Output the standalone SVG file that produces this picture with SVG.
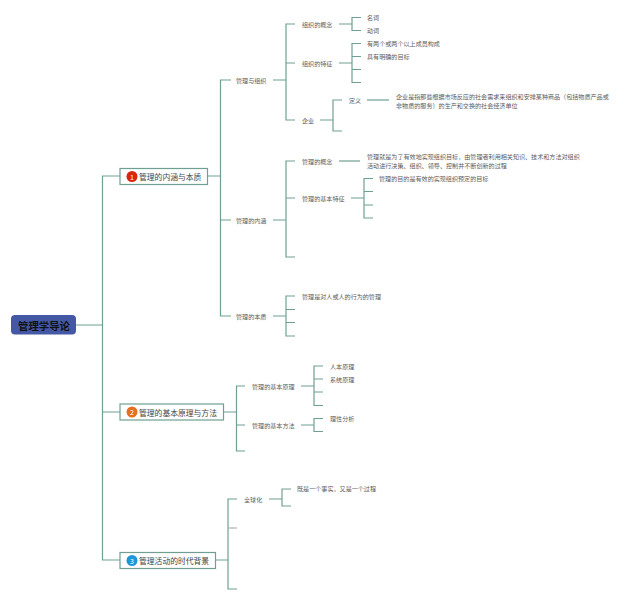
<svg xmlns="http://www.w3.org/2000/svg" width="640" height="600" viewBox="0 0 640 600">
<style>
text{font-family:"Noto Sans CJK SC","Noto Sans",sans-serif;dominant-baseline:central}
.c{fill:none;stroke:#6f9f93;stroke-width:1.200}
.g{fill:none;stroke:#a9b8b3;stroke-width:1.200}
.t{font-size:6.080px;fill:#5c5c5c}
.b{fill:#fff;stroke:#6f9f93;stroke-width:1.200}
.m{font-size:7.800px;fill:#444}
.n{font-size:7px;fill:#fff;text-anchor:middle}
</style>
<rect width="640" height="600" fill="#fff"/>
<g id="connectors">
<path class="c" d="M76 325H102.500M120 176H102.500V560H120M102.500 412H120"/>
<path class="c" d="M207.500 176H220.500M231 80H220.500V316H231M220.500 220H231"/>
<path class="c" d="M273 80H286M295 24H286V120H295M286 63H295"/>
<path class="c" d="M339 24H352M361 17.500H352V30.500H361"/>
<path class="c" d="M339 63H352M361 43.500H352V82.500H361M352 56.500H361M352 69.500H361"/>
<path class="c" d="M320 120H333M342 100H333V131H342"/>
<path class="c" d="M367 100H389"/>
<path class="c" d="M273 220H286M295 161H286V257H295M286 198H295"/>
<path class="c" d="M339 161H360"/>
<path class="c" d="M351 198H364M373 178.500H364V218H373M364 191.500H373M364 205H373"/>
<path class="c" d="M273 316H286M295 296H286V336H295M286 309.500H295M286 322.500H295"/>
<path class="c" d="M223.500 412H236.500M245 386H236.500V451H245M236.500 425H245"/>
<path class="c" d="M301 386H314M323 366H314V405.500H323M314 379H323M314 392H323"/>
<path class="c" d="M301 425H314M323 418.500H314V431.500H323"/>
<path class="c" d="M215.500 560H228M237 499H228V589H237"/>
<path class="g" d="M228 528H237"/>
<path class="c" d="M269 499H282M291 489H282V506H291"/>
</g>
<g id="root"><rect x="11" y="315" width="65" height="19.500" rx="4" fill="#4558a6"/><text x="18" y="325" font-size="10.400" font-weight="700" fill="#111">管理学导论</text></g>
<g id="n1"><rect class="b" x="120" y="168.500" width="87.500" height="16"/><circle cx="132" cy="176.500" r="5.500" fill="#d9260c"/><text class="n" x="132" y="176.500">1</text><text class="m" x="139" y="176.700">管理的内涵与本质</text></g>
<g id="n2"><rect class="b" x="120" y="404" width="103.500" height="16"/><circle cx="132" cy="412" r="5.500" fill="#e5701f"/><text class="n" x="132" y="412">2</text><text class="m" x="139" y="412.200">管理的基本原理与方法</text></g>
<g id="n3"><rect class="b" x="120" y="552.500" width="95.500" height="16"/><circle cx="132" cy="560.500" r="5.500" fill="#1e96d8"/><text class="n" x="132" y="560.500">3</text><text class="m" x="139" y="560.700">管理活动的时代背景</text></g>
<g id="labels" transform="translate(0,-0.300)">
<text class="t" x="236" y="81">管理与组织</text>
<text class="t" x="302" y="24.500">组织的概念</text>
<text class="t" x="367" y="18">名词</text>
<text class="t" x="367" y="31">动词</text>
<text class="t" x="302" y="63.500">组织的特征</text>
<text class="t" x="367" y="44">有两个或两个以上成员构成</text>
<text class="t" x="367" y="57">具有明确的目标</text>
<text class="t" x="302" y="120.500">企业</text>
<text class="t" x="349" y="101">定义</text>
<text class="t" x="396" y="96.500">企业是指那些根据市场反应的社会需求来组织和安排某种商品（包括物质产品或</text>
<text class="t" x="396" y="105.500">非物质的服务）的生产和交换的社会经济单位</text>
<text class="t" x="236" y="220.500">管理的内涵</text>
<text class="t" x="302" y="161.500">管理的概念</text>
<text class="t" x="367" y="157">管理就是为了有效地实现组织目标，由管理者利用相关知识、技术和方法对组织</text>
<text class="t" x="367" y="166">活动进行决策、组织、领导、控制并不断创新的过程</text>
<text class="t" x="302" y="198.500">管理的基本特征</text>
<text class="t" x="379" y="179">管理的目的是有效的实现组织预定的目标</text>
<text class="t" x="236" y="316.500">管理的本质</text>
<text class="t" x="302" y="297">管理是对人或人的行为的管理</text>
<text class="t" x="252" y="387">管理的基本原理</text>
<text class="t" x="330" y="367">人本原理</text>
<text class="t" x="330" y="380">系统原理</text>
<text class="t" x="252" y="426">管理的基本方法</text>
<text class="t" x="330" y="419">理性分析</text>
<text class="t" x="244" y="500">全球化</text>
<text class="t" x="297" y="489">既是一个事实，又是一个过程</text>
</g>
</svg>
